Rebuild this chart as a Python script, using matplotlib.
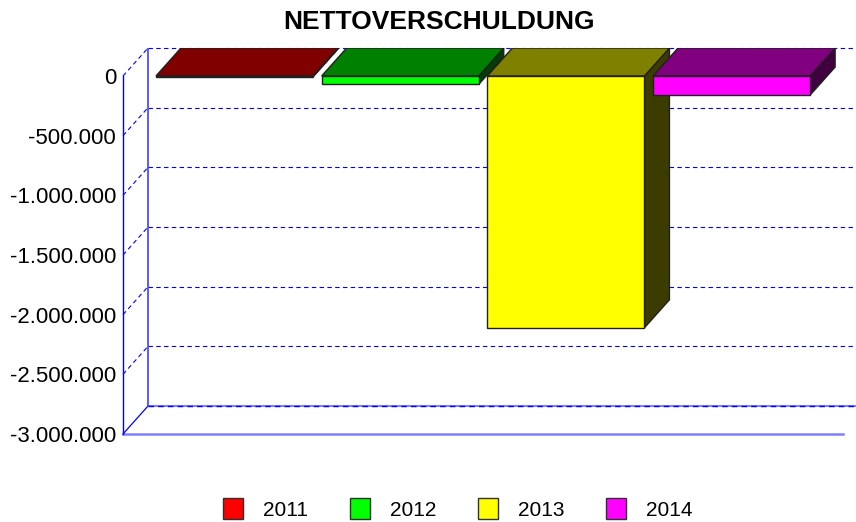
import matplotlib
matplotlib.use('Agg')
from matplotlib import pyplot
from matplotlib.patches import Polygon, Patch

pyplot.rcParams['font.family'] = ['Liberation Sans', 'DejaVu Sans']

# data
years = ['2011', '2012', '2013', '2014']
values = [-8000, -70000, -2110000, -160000]
front_colors = ['#ff0000', '#00ff00', '#ffff00', '#ff00ff']
top_colors = ['#800000', '#008000', '#808000', '#800080']
side_colors = ['#400000', '#004000', '#3c3c00', '#400040']
ticks = [0, -500000, -1000000, -1500000, -2000000, -2500000, -3000000]

# pseudo 3d depth in data units
depth_x = 0.151
depth_y = 234600
bar_w = 0.948

fig = pyplot.figure(figsize=(8.56, 5.22), dpi=100)
ax = fig.add_axes([123 / 856, 88 / 522, 733 / 856, 386 / 522])
ax.set_xlim(-0.673, 3.751)
ax.set_ylim(-3000000, depth_y)

grid_dash = (0, (4, 3))
blue = '#0000ff'
x0 = ax.get_xlim()[0]
x_end = ax.get_xlim()[1]

# back wall gridlines + diagonals
for t in ticks:
    if t == ticks[-1]:
        ax.plot([x0 + depth_x, x_end], [t + depth_y, t + depth_y], color='#8080ff', lw=1.5, clip_on=False, zorder=1)
        ax.plot([x0 + depth_x, x_end], [t + depth_y, t + depth_y], color=blue, lw=1, ls=grid_dash, clip_on=False, zorder=1)
        ax.plot([x0, x0 + depth_x], [t, t + depth_y], color=blue, lw=0.9, clip_on=False, zorder=1)
    else:
        ax.plot([x0 + depth_x, x_end], [t + depth_y, t + depth_y], color=blue, lw=0.8, ls=grid_dash, clip_on=False, zorder=1)
        ax.plot([x0, x0 + depth_x], [t, t + depth_y], color=blue, lw=0.8, ls=grid_dash, clip_on=False, zorder=1)

# back vertical axis
ax.plot([x0 + depth_x, x0 + depth_x], [ticks[-1] + depth_y, ticks[0] + depth_y], color='#4040ff', lw=1.2, zorder=1)
# front floor line
ax.plot([x0, 3.673], [ticks[-1], ticks[-1]], color='#8080ff', lw=1.8, clip_on=False, zorder=1)

# bars
for i, v in enumerate(values):
    l = i - bar_w / 2
    r = i + bar_w / 2
    front = Polygon([(l, 0), (r, 0), (r, v), (l, v)], closed=True,
                    facecolor=front_colors[i], edgecolor='#202020', lw=1, zorder=3 + i)
    top = Polygon([(l, 0), (r, 0), (r + depth_x, depth_y), (l + depth_x, depth_y)], closed=True,
                  facecolor=top_colors[i], edgecolor='#202020', lw=1, zorder=3 + i)
    side = Polygon([(r, 0), (r + depth_x, depth_y), (r + depth_x, v + depth_y), (r, v)], closed=True,
                   facecolor=side_colors[i], edgecolor='#202020', lw=1, zorder=3 + i)
    ax.add_patch(side)
    ax.add_patch(top)
    ax.add_patch(front)

# axis styling
for s in ['top', 'right', 'bottom']:
    ax.spines[s].set_visible(False)
ax.spines['left'].set_color(blue)
ax.spines['left'].set_linewidth(1)
ax.spines['left'].set_bounds(ticks[-1], ticks[0])
ax.set_xticks([])
ax.set_yticks(ticks)
ax.set_yticklabels(['{:,.0f}'.format(t).replace(',', '.') for t in ticks])
ax.tick_params(axis='y', length=0, pad=5, labelsize=16)
ax.patch.set_visible(False)

fig.text(439 / 856, 1 - 22 / 522, 'NETTOVERSCHULDUNG', ha='center', va='center',
         fontsize=19, fontweight='bold')

handles = [Patch(facecolor=c, edgecolor='#303030', lw=1) for c in front_colors]
fig.legend(handles, years, loc='center', bbox_to_anchor=(458 / 856, 1 - 509 / 522), ncol=4,
           frameon=False, fontsize=15, handlelength=0.96, handleheight=1.15,
           handletextpad=0.96, columnspacing=2.0)

pyplot.savefig('out.png', dpi=100)
